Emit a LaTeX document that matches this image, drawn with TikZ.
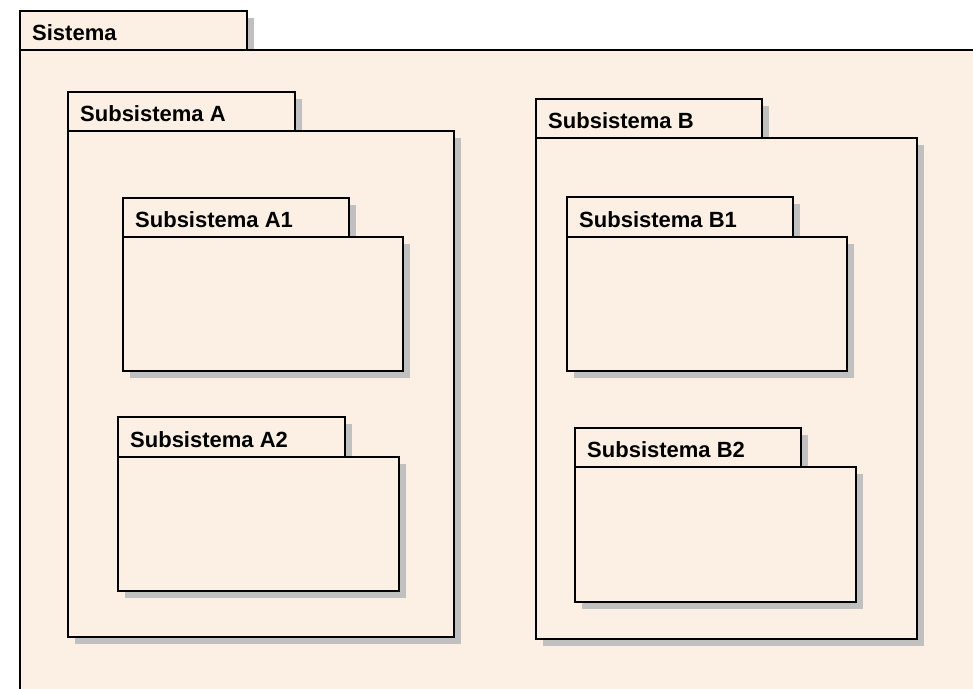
\documentclass[tikz,border=0pt]{standalone}
\usepackage{fontspec}
\setmainfont{Liberation Sans}
\definecolor{pkgfill}{HTML}{FBF0E3}
\definecolor{shadowc}{HTML}{C0C0C0}
\tikzset{
  pkg/.style={fill=pkgfill, draw=black, line width=2pt},
  shade box/.style={fill=shadowc},
  lbl/.style={anchor=base west, inner sep=0pt, font=\bfseries\fontsize{22}{26}\selectfont}
}
\newcommand\pkgbox[8]{%
  \fill[shade box] (#2+6.5,#3+6.5) rectangle (#4+6.5,#5);
  \fill[shade box] (#2+6.5,#5+6.5) rectangle (#6+6.5,#7+6.5);
  \filldraw[pkg] (#2,#3) rectangle (#4,#5);
  \filldraw[pkg] (#2,#5) rectangle (#6,#7);
  \node[lbl] (#1) at (#2+12,#5-9.5) {#8};
}
\begin{document}
\begin{tikzpicture}[x=1pt,y=-1pt]
  \useasboundingbox (0,0) rectangle (973,688);
  \fill[white] (0,0) rectangle (973,688);
  \clip (0,0) rectangle (973,688);
  \pkgbox{sistema}{20}{11}{247}{50}{1000}{720}{Sistema}
  \pkgbox{subA}{68}{92}{295}{131}{454}{637}{Subsistema A}
  \pkgbox{subA1}{123}{198}{349}{237}{403}{371}{Subsistema A1}
  \pkgbox{subA2}{118}{417}{345}{457}{399}{591}{Subsistema A2}
  \pkgbox{subB}{536}{99}{762}{138}{917}{639}{Subsistema B}
  \pkgbox{subB1}{567}{197}{793}{237}{847}{371}{Subsistema B1}
  \pkgbox{subB2}{575}{428}{801}{467}{856}{602}{Subsistema B2}
\end{tikzpicture}
\end{document}
